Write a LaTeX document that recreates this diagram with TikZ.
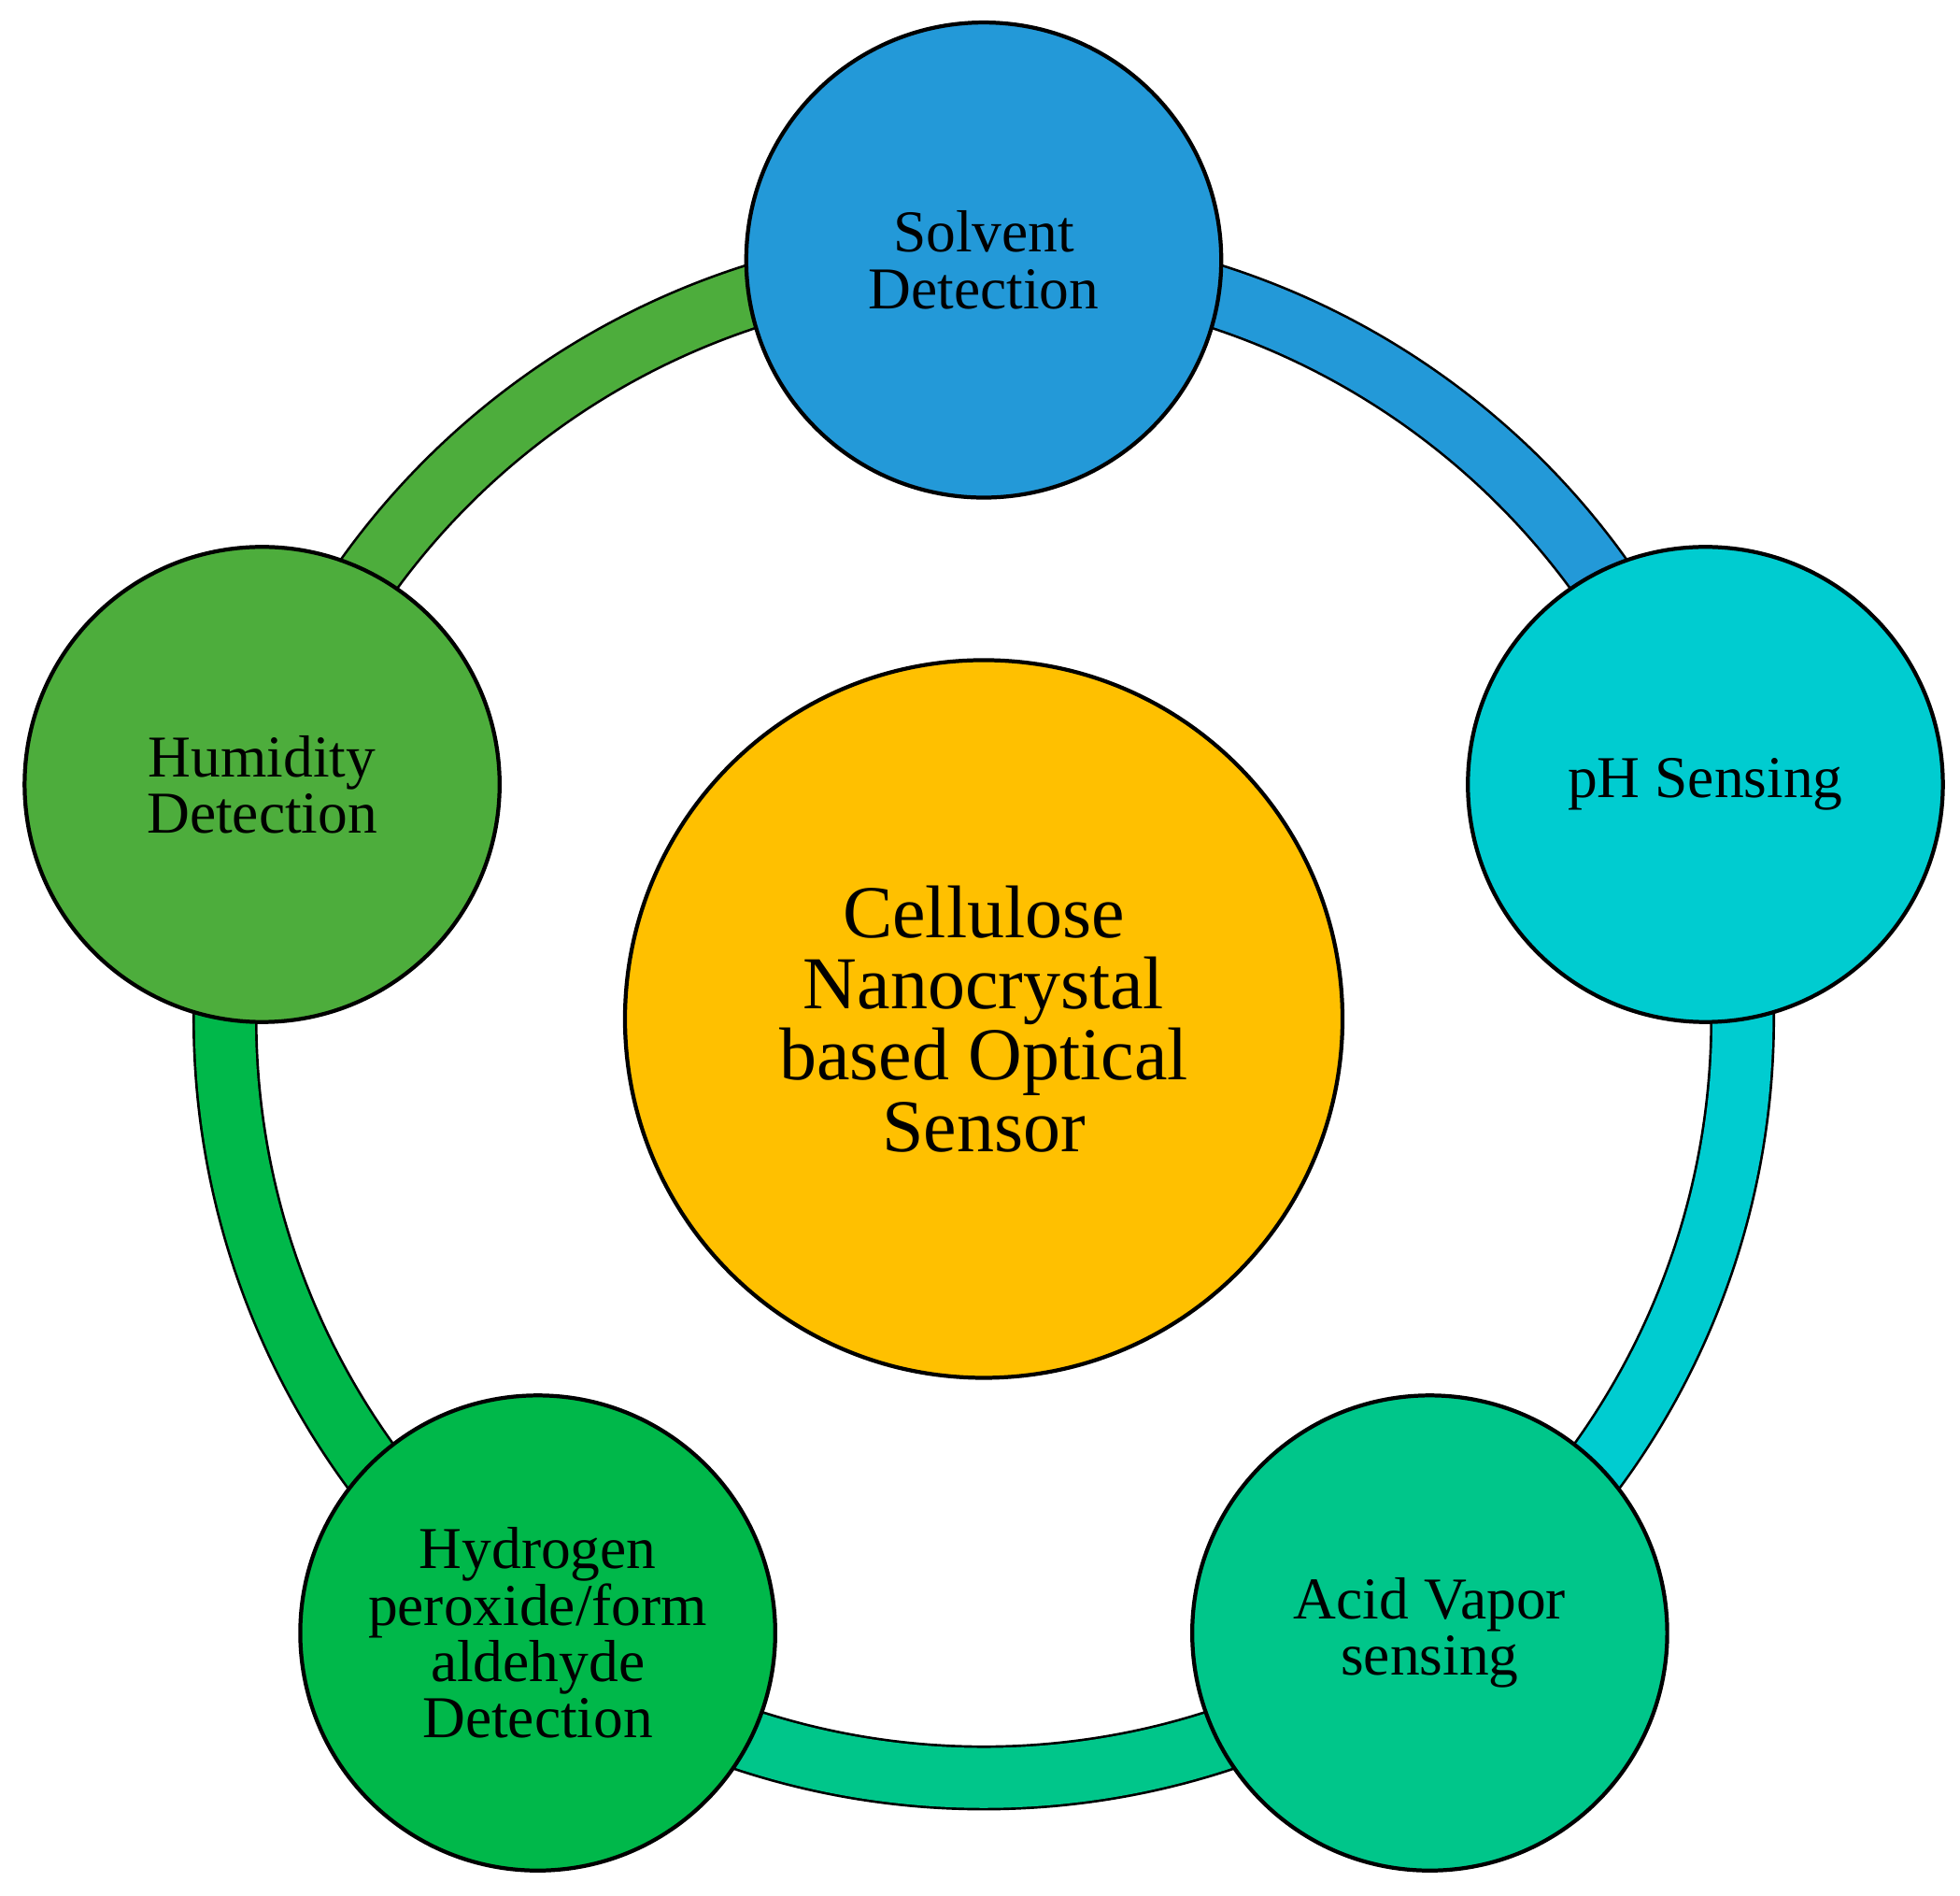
\documentclass[tikz,border=0pt]{standalone}
\usepackage{fontspec}
\setmainfont{Liberation Serif}
\begin{document}
\begin{tikzpicture}
\useasboundingbox (-7.87,-7.01) rectangle (7.81,8.15);
\definecolor{cSol}{HTML}{2399D8}
\definecolor{cPH}{HTML}{00CCD0}
\definecolor{cAcid}{HTML}{00C68A}
\definecolor{cHyd}{HTML}{00B84A}
\definecolor{cHum}{HTML}{4DAD3C}
\definecolor{cCen}{HTML}{FFC000}
\tikzset{
  bub/.style={circle, draw=black, line width=0.9pt, minimum size=3.8cm, inner sep=0pt, align=center, font=\fontsize{13.5}{12.8}\selectfont},
  seg/.style={line width=0.52cm, draw=black},
  segin/.style={line width=0.48cm}
}
\def\R{6.07}
\foreach \a/\b/\c in {90/162/cHum, 18/90/cSol, -54/18/cPH, -126/-54/cAcid, 162/234/cHyd}{
  \draw[seg] (\a:\R) arc[start angle=\a, end angle=\b, radius=\R];
  \draw[segin, draw=\c] (\a:\R) arc[start angle=\a, end angle=\b, radius=\R];
}
\node[bub, fill=cCen, minimum size=5.74cm, font=\fontsize{17}{16.2}\selectfont] (cen) at (0,0) {Cellulose\\Nanocrystal\\based Optical\\Sensor};
\node[bub, fill=cSol] (sol) at (90:\R) {Solvent\\Detection};
\node[bub, fill=cPH] (ph) at (18:\R) {pH Sensing};
\node[bub, fill=cAcid] (acid) at (-54:\R) {Acid Vapor\\sensing};
\node[bub, fill=cHyd] (hyd) at (-126:\R) {Hydrogen\\peroxide/form\\aldehyde\\Detection};
\node[bub, fill=cHum] (hum) at (162:\R) {Humidity\\Detection};
\end{tikzpicture}
\end{document}
